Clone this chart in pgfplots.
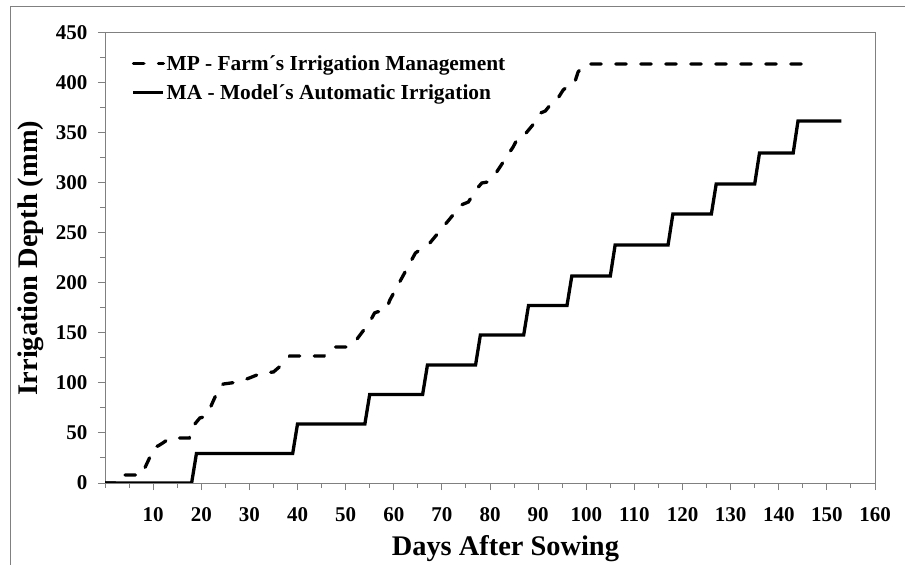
\documentclass[border=0pt]{standalone}
\usepackage{fontspec}
\setmainfont{Liberation Serif}
\usepackage{pgfplots}
\pgfplotsset{compat=1.18}
\begin{document}
\begin{tikzpicture}
\begin{axis}[
  at={(105bp,82bp)}, anchor=south west,
  scale only axis, width=770bp, height=450bp,
  xmin=0, xmax=160, ymin=0, ymax=450,
  xtick={10,20,...,160}, minor xtick={0,5,...,160},
  ytick={0,50,...,450}, minor ytick={25,75,...,425},
  tick align=outside, xtick pos=bottom, ytick pos=left,
  major tick length=7bp, minor tick length=5bp,
  axis line style={draw=gray, line width=1bp},
  every tick/.style={draw=gray, line width=1bp},
  /pgf/number format/assume math mode=true,
  ticklabel style={font=\fontsize{21bp}{24bp}\selectfont\bfseries},
  xticklabel style={yshift=-14bp},
  yticklabel style={xshift=-7bp},
  xlabel={Days After Sowing},
  ylabel={Irrigation Depth (mm)},
  xlabel style={font=\fontsize{28.4bp}{32bp}\selectfont\bfseries, at={(axis description cs:0.52,-0.1622)}, anchor=base},
  ylabel style={font=\fontsize{28.4bp}{32bp}\selectfont\bfseries, at={(axis description cs:-0.0961,0.5)}, anchor=center},
  legend style={draw=none, fill=none, inner sep=0pt, at={(axis description cs:0.0345,0.951)}, anchor=north west,
    font=\fontsize{21.4bp}{24bp}\selectfont\bfseries, row sep=13bp,
    nodes={inner sep=0pt},
    /tikz/every odd column/.append style={column sep=1.5bp}},
  legend cell align=left,
  legend image code/.code={\draw[#1] (0bp,0bp) -- (30bp,0bp);},
]
\addplot[black, line width=3.3bp, dash pattern=on 10.5bp off 14.5bp, line cap=round] coordinates {
(0,0)(3,0)(3.8,8)(7.6,8)(10.3,36)(11,37)(12,40)(13.5,45)(17.5,45)(18.5,58)(19.7,65)(20.5,66)(21.4,70)(22.4,81)(23.8,96)(24.6,99)(27.7,101)(30,105)(32.6,110)(35,111)(36.7,118)(38.4,127)(45.5,127)(47.4,136)(50.5,136)(51.9,141)(53.3,150)(54.9,160)(56,170)(56.5,171)(58.4,173)(59.2,183)(64.5,230)(66,235)(67.5,240)(73,272)(74,278)(75.5,281)(77.4,295)(78.3,300)(79.5,301)(80.7,306)(84.8,336)(86,347)(87.5,350)(89.4,361)(90.5,370)(91.5,372)(92.5,378)(93.5,380)(95.2,393)(96.5,398)(97.5,399)(98.3,411)(99.7,419)(147,419)
};
\addlegendentry{MP - Farm´s Irrigation Management}
\addplot[black, line width=3.3bp] coordinates {
(0,0)(18,0)(19,29.5)(39,29.5)(40,59)(54,59)(55,88.5)(66,88.5)(67,118)(77,118)(78,148)(87,148)(88,177.5)(96,177.5)(97,207)(105,207)(106,238)(117,238)(118,269)(126,269)(127,299)(135,299)(136,330)(143,330)(144,362)(153,362)
};
\addlegendentry{MA - Model´s Automatic Irrigation}
\end{axis}
\draw[gray, line width=1bp] (10bp,-20bp) -- (10bp,558bp) -- (930bp,558bp);
\pgfresetboundingbox
\path[use as bounding box] (0bp,0bp) rectangle (905bp,565bp);
\end{tikzpicture}
\end{document}
